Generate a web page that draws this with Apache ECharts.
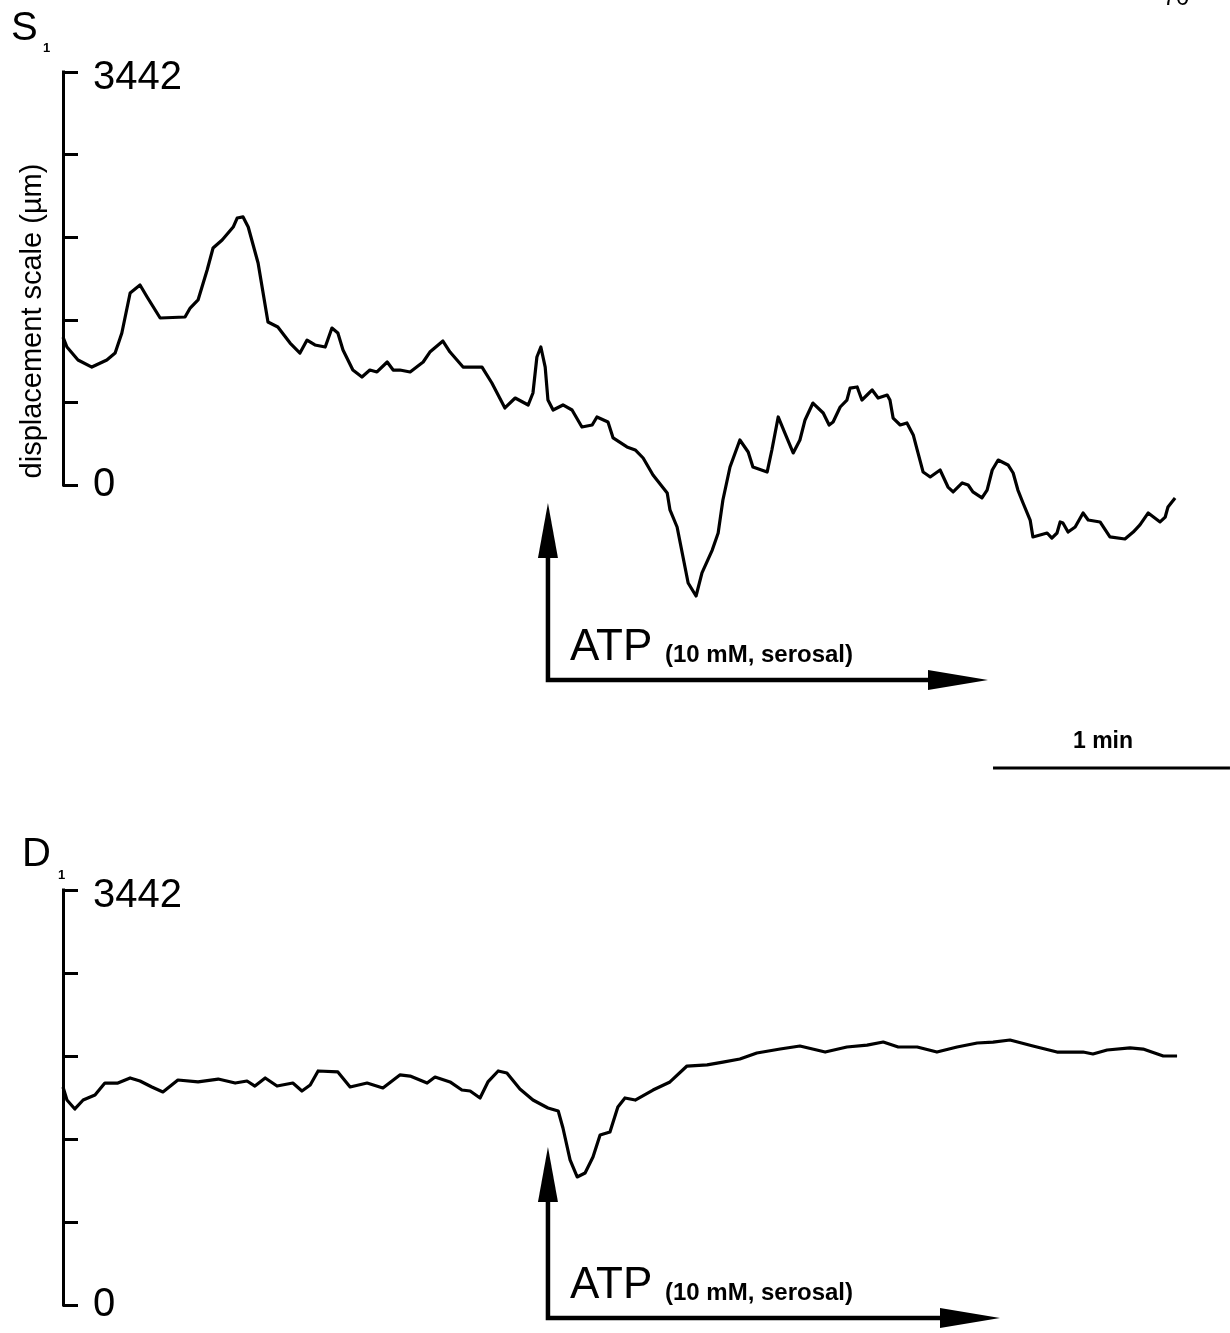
<!DOCTYPE html>
<html><head><meta charset="utf-8">
<script src="https://cdn.jsdelivr.net/npm/echarts@6.0.0/dist/echarts.min.js"></script>
<style>html,body{margin:0;padding:0;background:#fff}#c{width:1230px;height:1333px}</style>
</head><body><div id="c"></div>
<script>
// ---- data (time in s, displacement in µm) ----
const timeS1 = [0,1.0,3.8,7.3,11.1,13.2,14.9,17.0,19.5,21.3,24.6,30.9,32.2,34.2,36.5,38.0,40.3,43.1,44.1,45.6,46.9,49.4,51.9,54.4,57.5,60.0,61.8,63.8,66.4,68.1,69.6,70.9,73.4,75.7,77.7,79.5,82.1,83.6,85.3,87.9,91.2,92.9,96.2,98.0,101.3,106.1,108.6,111.9,114.5,117.8,119.0,120.0,121.0,122.1,122.8,124.1,126.6,128.9,131.4,134.0,135.2,138.0,139.3,142.8,144.9,146.9,149.4,153.0,153.7,155.5,157.0,158.3,160.3,161.8,164.4,165.9,167.1,168.9,171.4,173.5,174.7,178.3,179.5,181.1,182.8,184.9,186.6,187.9,189.9,192.5,194.0,195.0,196.8,198.5,199.3,201.1,202.3,203.6,204.9,206.4,208.7,209.4,210.2,212.0,213.7,215.3,216.3,217.8,219.6,222.1,224.1,225.4,227.7,229.2,230.4,232.7,234.0,235.3,236.8,239.3,240.6,241.8,243.1,244.9,245.6,247.4,249.2,250.4,251.7,252.5,253.2,254.5,256.3,258.3,259.6,262.6,265.1,268.9,271.0,272.7,274.8,277.8,279.1,279.8,281.6];
const dispS1 = [1233,1150,1042,983,1042,1100,1267,1600,1667,1567,1392,1400,1475,1542,1792,1975,2042,2150,2225,2234,2150,1850,1358,1317,1183,1100,1208,1167,1150,1308,1267,1125,958,900,958,942,1025,958,958,942,1025,1108,1200,1108,983,983,850,642,725,667,767,1067,1150,983,708,625,667,625,483,500,567,525,392,317,292,225,83,-67,-208,-350,-600,-817,-925,-733,-542,-400,-125,150,375,275,150,108,292,567,433,267,375,542,683,600,500,525,650,708,808,817,708,750,792,725,750,708,558,500,517,417,292,108,67,125,-17,-58,17,0,-58,-108,-42,125,208,167,100,-42,-150,-292,-433,-417,-400,-442,-400,-308,-317,-392,-350,-233,-292,-308,-433,-450,-392,-333,-233,-308,-267,-183,-108];
const timeD1 = [0,1.0,3.0,5.1,8.1,10.6,13.9,17.0,19.5,22.5,25.3,29.1,34.2,39.3,43.6,46.6,48.6,51.2,54.2,58.2,60.5,62.6,64.6,69.6,72.7,77.0,81.0,85.3,87.9,92.2,94.2,98.0,101.0,103.1,105.6,107.6,110.2,112.4,115.7,119.0,122.8,125.4,126.6,128.4,130.2,132.2,134.2,136.0,138.5,140.5,142.3,144.9,149.4,153.7,158.0,163.1,167.1,171.4,175.7,181.6,186.6,193.0,198.5,203.6,207.7,211.5,216.3,221.3,226.4,231.5,235.5,239.8,245.6,251.7,258.3,260.8,264.4,270.2,273.5,278.6,282.1];
const dispD1 = [1808,1700,1626,1700,1742,1841,1841,1883,1858,1808,1767,1866,1850,1874,1841,1858,1816,1883,1816,1841,1775,1825,1941,1933,1808,1841,1800,1908,1899,1841,1891,1850,1783,1775,1717,1850,1941,1924,1791,1700,1634,1609,1468,1203,1062,1095,1228,1410,1435,1642,1717,1700,1783,1850,1982,1991,2015,2040,2090,2123,2148,2098,2140,2156,2181,2140,2140,2098,2140,2173,2181,2198,2148,2098,2098,2082,2115,2132,2123,2065,2065];
const yMax = 3442;
const yTickCount = 5;            // intervals on the displacement axis
const yTickLabels = ['0', '3442'];
const panelLabels = ['S', 'D'];
const atpTime = 122.8;           // s, ATP addition
const atpText = 'ATP';
const atpNote = '(10 mM, serosal)';
const scaleBarStart = 235.5, scaleBarLen = 60; // s
const scaleBarText = '1 min';
const yTitle = 'displacement scale (µm)';

const FONT = '"Liberation Sans", Arial, sans-serif';
const chart = echarts.init(document.getElementById('c'));
const grids = [{left:63, top:72, width:1165, height:413}, {left:63, top:890, width:1165, height:415}];
const yAxisCfg = i => ({
  gridIndex: i, type: 'value', min: 0, max: yMax, interval: yMax / yTickCount,
  axisLine: {show: true, lineStyle: {color: '#000', width: 3, cap: 'square'}},
  axisTick: {show: true, inside: true, length: 15, lineStyle: {color: '#000', width: 3}},
  splitLine: {show: false},
  axisLabel: {inside: true, margin: 30, color: '#000', fontSize: 40, fontFamily: FONT,
    formatter: v => (v === 0 ? '{b|' + yTickLabels[0] + '}' : (Math.abs(v - yMax) < 1 ? '{t|' + yTickLabels[1] + '}' : '')),
    rich: {
      t: {fontSize: 40, fontFamily: FONT, color: '#000', padding: [12, 0, 0, 0]},
      b: {fontSize: 40, fontFamily: FONT, color: '#000'}
    }}
});
const xAxisCfg = i => ({gridIndex: i, type: 'value', min: 0, max: 295, show: false});
const mk = (t, v) => t.map((x, k) => [x, v[k]]);
chart.setOption({
  animation: false,
  grid: grids,
  xAxis: [xAxisCfg(0), xAxisCfg(1)],
  yAxis: [yAxisCfg(0), yAxisCfg(1)],
  series: [
    {type: 'line', xAxisIndex: 0, yAxisIndex: 0, data: mk(timeS1, dispS1), showSymbol: false, clip: false,
     lineStyle: {color: '#000', width: 3.2, join: 'round'}},
    {type: 'line', xAxisIndex: 1, yAxisIndex: 1, data: mk(timeD1, dispD1), showSymbol: false, clip: false,
     lineStyle: {color: '#000', width: 3.2, join: 'round'}}
  ]
});

function txt(x, y, text, font, align) {
  return {type: 'text', x: x, y: y, style: {text: text, font: font, fill: '#000', align: align || 'left', verticalAlign: 'middle'}};
}
const g = [];
const cornerY = [680, 1318], tipY = [503, 1147], hTipX = [988, 1000];
const labelPos = [[11, 29, 43, 48], [22, 855, 58, 875]];
for (let i = 0; i < 2; i++) {
  const x0 = chart.convertToPixel({gridIndex: i}, [atpTime, 0])[0];
  const yc = cornerY[i], yt = tipY[i], xt = hTipX[i];
  g.push({type: 'polyline', shape: {points: [[x0, yt + 50], [x0, yc], [xt - 55, yc]]},
          style: {stroke: '#000', lineWidth: 4.5, fill: null, lineJoin: 'miter'}});
  g.push({type: 'polygon', shape: {points: [[x0, yt], [x0 - 10, yt + 55], [x0 + 10, yt + 55]]}, style: {fill: '#000'}});
  g.push({type: 'polygon', shape: {points: [[xt, yc], [xt - 60, yc - 10], [xt - 60, yc + 10]]}, style: {fill: '#000'}});
  g.push(txt(x0 + 22, yc - 32, atpText, '44px ' + FONT));
  g.push(txt(x0 + 117, yc - 25, atpNote, 'bold 24px ' + FONT));
  const lp = labelPos[i];
  g.push(txt(lp[0], lp[1], panelLabels[i], '40px ' + FONT));
  g.push(txt(lp[2], lp[3], '1', 'bold 13px ' + FONT));
}
g.push({type: 'text', x: 33, y: 321, rotation: Math.PI / 2,
        style: {text: yTitle, font: '29px ' + FONT, fill: '#000', align: 'center', verticalAlign: 'middle'}});
const sb0 = chart.convertToPixel({gridIndex: 0}, [scaleBarStart, 0])[0];
const sb1 = chart.convertToPixel({gridIndex: 0}, [scaleBarStart + scaleBarLen, 0])[0];
g.push({type: 'line', shape: {x1: sb0, y1: 768, x2: sb1, y2: 768}, style: {stroke: '#000', lineWidth: 3}});
g.push(txt(sb0 + 110, 742, scaleBarText, 'bold 23px ' + FONT, 'center'));
g.push({type: 'text', x: 1176, y: 10, style: {text: '70', font: '24px ' + FONT, fill: '#000', align: 'center', verticalAlign: 'bottom'}});
chart.setOption({graphic: g});
</script>
</body></html>
